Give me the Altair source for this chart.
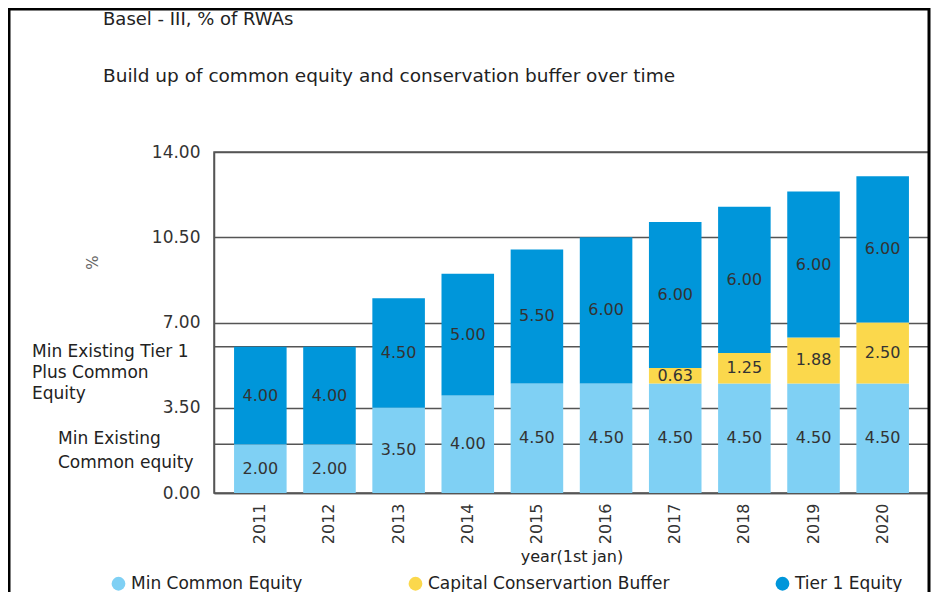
import altair as alt
import pandas as pd

# ---- data ----
years = ["2011", "2012", "2013", "2014", "2015", "2016", "2017", "2018", "2019", "2020"]
min_common_equity = [2.00, 2.00, 3.50, 4.00, 4.50, 4.50, 4.50, 4.50, 4.50, 4.50]
capital_conservation_buffer = [0, 0, 0, 0, 0, 0, 0.63, 1.25, 1.88, 2.50]
tier1_equity = [4.00, 4.00, 4.50, 5.00, 5.50, 6.00, 6.00, 6.00, 6.00, 6.00]

series_names = ["Min Common Equity", "Capital Conservartion Buffer", "Tier 1 Equity"]
series_colors = ["#7fd0f4", "#fbd84c", "#0096da"]

y_ticks = [0, 3.5, 7, 10.5, 14]
ref_levels = [6.0, 2.0]
ref_labels = [["Min Existing Tier 1", "Plus Common", "Equity"],
              ["Min Existing", "Common equity"]]

title_text = "Basel - III, % of RWAs"
subtitle_text = "Build up of common equity and conservation buffer over time"

rows = []
for i, yr in enumerate(years):
    for k, (name, vals) in enumerate(zip(series_names,
                                         [min_common_equity, capital_conservation_buffer, tier1_equity])):
        if vals[i] > 0:
            rows.append({"year": yr, "series": name, "order": k, "value": vals[i]})
df = pd.DataFrame(rows)

FONT = "DejaVu Sans"
W, H = 715, 341
GRID = "#555555"

y_scale = alt.Scale(domain=[0, 14], nice=False, zero=True)
y_axis = alt.Axis(values=y_ticks, format=".2f", title="%", grid=True, gridColor=GRID,
                  gridWidth=1.5, ticks=False, tickSize=0, domain=True, domainColor=GRID,
                  domainWidth=1.5, labelFont=FONT, labelFontSize=17, labelColor="#333",
                  labelPadding=14, titleFont=FONT, titleFontSize=15, titleFontWeight="normal",
                  titleColor="#666", titleX=-114, titleY=110)
x_axis = alt.Axis(title="year(1st jan)", labelAngle=-90, ticks=False, tickSize=0,
                  domainColor=GRID, domainWidth=1.5, labelFont=FONT, labelFontSize=16,
                  labelColor="#333", labelPadding=10, titleFont=FONT, titleFontSize=16,
                  titleFontWeight="normal", titleColor="#222", titlePadding=5)
x_scale = alt.Scale(paddingInner=0.24, paddingOuter=0.29)

base = alt.Chart(df).transform_stack(
    stack="value", groupby=["year"], as_=["y0", "y1"],
    sort=[alt.SortField("order", order="ascending")]
).transform_calculate(mid="(datum.y0 + datum.y1) / 2")

bars = base.mark_bar().encode(
    x=alt.X("year:N", scale=x_scale, axis=x_axis, sort=years),
    y=alt.Y("y0:Q", scale=y_scale, axis=y_axis),
    y2="y1:Q",
    color=alt.Color("series:N",
                    scale=alt.Scale(domain=series_names, range=series_colors),
                    legend=alt.Legend(orient="none", legendX=-104, legendY=423,
                                      direction="horizontal", title=None,
                                      symbolType="circle", symbolSize=190,
                                      symbolStrokeWidth=0, labelFont=FONT,
                                      labelFontSize=17, labelColor="#222",
                                      columnPadding=104, labelLimit=400)),
)

labels = base.mark_text(font=FONT, fontSize=16, color="#333").encode(
    x=alt.X("year:N", scale=x_scale, axis=x_axis, sort=years),
    y=alt.Y("mid:Q", scale=y_scale, axis=y_axis),
    text=alt.Text("value:Q", format=".2f"),
)

rules = alt.Chart(pd.DataFrame({"level": ref_levels})).mark_rule(
    color=GRID, strokeWidth=1.5
).encode(y=alt.Y("level:Q", scale=y_scale, axis=y_axis))

lab1 = alt.Chart(pd.DataFrame({"level": [ref_levels[0]], "label": [ref_labels[0]]})).mark_text(
    align="left", baseline="top", dy=-3, lineHeight=21, font=FONT, fontSize=17, color="#222"
).encode(x=alt.value(-182), y=alt.Y("level:Q", scale=y_scale, axis=y_axis), text="label")

lab2 = alt.Chart(pd.DataFrame({"level": [ref_levels[1]], "label": [ref_labels[1]]})).mark_text(
    align="left", baseline="top", dy=-13, lineHeight=24, font=FONT, fontSize=17, color="#222"
).encode(x=alt.value(-156), y=alt.Y("level:Q", scale=y_scale, axis=y_axis), text="label")

title_mark = alt.Chart(pd.DataFrame({"t": [title_text]})).mark_text(
    align="left", baseline="middle", font=FONT, fontSize=18, color="#222"
).encode(x=alt.value(-111), y=alt.value(-132), text="t:N")

subtitle_mark = alt.Chart(pd.DataFrame({"t": [subtitle_text]})).mark_text(
    align="left", baseline="middle", font=FONT, fontSize=18.5, color="#222"
).encode(x=alt.value(-111), y=alt.value(-76), text="t:N")

frame = alt.Chart(pd.DataFrame({"f": [0]})).mark_rect(
    fillOpacity=0, stroke="black", strokeWidth=3
).encode(x=alt.value(-205), x2=alt.value(W), y=alt.value(-143), y2=alt.value(H + 200))

chart = alt.layer(rules, bars, labels, lab1, lab2, title_mark, subtitle_mark, frame).properties(
    width=W, height=H,
    autosize=alt.AutoSizeParams(type="none"),
    padding={"left": 206, "top": 144, "right": 2, "bottom": 99},
).configure_view(stroke=GRID, strokeWidth=1.5)

chart.save("out.html", embed_options={"renderer": "svg", "actions": False})
